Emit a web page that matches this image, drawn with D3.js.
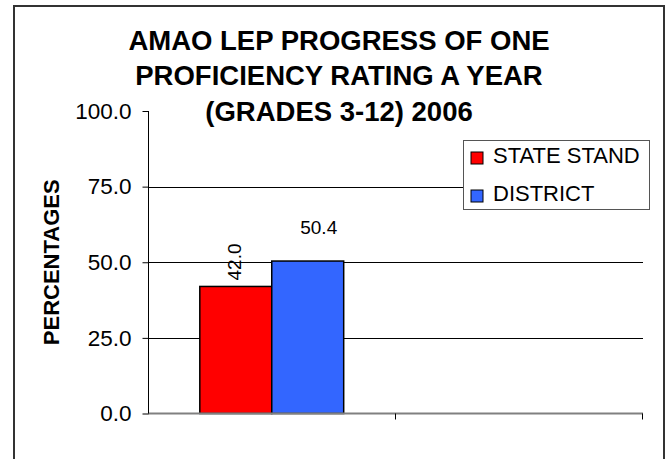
<!DOCTYPE html>
<html>
<head>
<meta charset="utf-8">
<script src="https://cdn.jsdelivr.net/npm/d3@7"></script>
<style>
  html, body { margin: 0; padding: 0; background: #fff; }
  svg { display: block; }
  text { font-family: "Liberation Sans", Arial, sans-serif; fill: #000; }
</style>
</head>
<body>
<svg id="chart" width="670" height="459"></svg>
<script>
// ---- data ----
const titleLines = ["AMAO LEP PROGRESS OF ONE", "PROFICIENCY RATING A YEAR", "(GRADES 3-12) 2006"];
const categories = ["2006", ""];
const seriesNames = ["STATE STAND", "DISTRICT"];
const stateStand = [42.0, null];
const district = [50.4, null];
const yTicks = [0, 25, 50, 75, 100];
const yTickLabels = ["0.0", "25.0", "50.0", "75.0", "100.0"];
const yAxisTitle = "PERCENTAGES";
const seriesColors = ["#FF0000", "#3366FF"];

const seriesValues = [stateStand, district];

// ---- layout ----
const svg = d3.select("#chart");
const plot = { left: 148, right: 643, top: 111, bottom: 413.5 };

svg.append("rect")
  .attr("x", 14).attr("y", 6).attr("width", 650).attr("height", 470)
  .attr("fill", "#fff").attr("stroke", "#333").attr("stroke-width", 2);

const x = d3.scaleBand().domain(categories.map((c, i) => i)).range([plot.left, plot.right]).padding(0);
const xs = d3.scaleBand().domain(seriesNames).range([0, x.bandwidth()]).paddingInner(0).paddingOuter(0.72);
const y = d3.scaleLinear().domain([0, 100]).range([plot.bottom, plot.top]);

// gridlines (excluding 0 and 100)
svg.append("g").selectAll("line")
  .data(yTicks.filter(t => t > 0 && t < 100))
  .join("line")
  .attr("x1", plot.left).attr("x2", plot.right)
  .attr("y1", d => Math.round(y(d)) + 0.5).attr("y2", d => Math.round(y(d)) + 0.5)
  .attr("stroke", "#000").attr("stroke-width", 1);

// bars
const flat = [];
categories.forEach((c, ci) => {
  seriesNames.forEach((s, si) => {
    const v = seriesValues[si][ci];
    if (v != null) flat.push({ ci, s, si, v });
  });
});

svg.append("g").selectAll("rect")
  .data(flat)
  .join("rect")
  .attr("x", d => x(d.ci) + xs(d.s))
  .attr("y", d => y(d.v))
  .attr("width", xs.bandwidth())
  .attr("height", d => y(0) - y(d.v))
  .attr("fill", d => seriesColors[d.si])
  .attr("stroke", "#000").attr("stroke-width", 1.5);

// x axis
svg.append("line")
  .attr("x1", plot.left).attr("x2", plot.right)
  .attr("y1", plot.bottom).attr("y2", plot.bottom)
  .attr("stroke", "#808080").attr("stroke-width", 2);
const xBoundaries = categories.map((c, i) => x(i) + x.bandwidth());
svg.append("g").selectAll("line")
  .data(xBoundaries)
  .join("line")
  .attr("x1", d => Math.round(d) - 0.5).attr("x2", d => Math.round(d) - 0.5)
  .attr("y1", plot.bottom).attr("y2", plot.bottom + 6)
  .attr("stroke", "#000").attr("stroke-width", 1);

// y axis
const yAxis = d3.axisLeft(y).tickValues(yTicks).tickSize(6).tickPadding(11)
  .tickFormat((d, i) => yTickLabels[i]);
const gy = svg.append("g").attr("transform", `translate(${plot.left + 0.5},0)`).call(yAxis);
gy.select(".domain").attr("stroke", "#000").attr("d", `M0,${plot.top}V${plot.bottom}`);
gy.selectAll(".tick line").attr("stroke", "#000");
gy.selectAll(".tick text")
  .style("font-family", '"Liberation Sans", Arial, sans-serif')
  .style("font-size", "22.5px").attr("fill", "#000");

// y axis title
svg.append("text")
  .attr("transform", `translate(59,${(plot.top + plot.bottom) / 2}) rotate(-90)`)
  .attr("text-anchor", "middle")
  .style("font-size", "22px").style("font-weight", "bold")
  .text(yAxisTitle);

// data labels
svg.append("g").selectAll("text")
  .data(flat)
  .join("text")
  .attr("transform", d => {
    const cx = x(d.ci) + xs(d.s) + xs.bandwidth() / 2;
    if (d.si === 0) return `translate(${cx + 5},${y(d.v) - 6}) rotate(-90)`;
    return `translate(${cx + 11},${y(d.v) - 27})`;
  })
  .attr("text-anchor", d => d.si === 0 ? "start" : "middle")
  .style("font-size", "19px")
  .text(d => d.v.toFixed(1));

// title
svg.append("g").selectAll("text")
  .data(titleLines)
  .join("text")
  .attr("x", 339).attr("y", (d, i) => 49.5 + i * 35.5)
  .attr("text-anchor", "middle")
  .style("font-size", "27.5px").style("font-weight", "bold")
  .text(d => d);

// legend
const lg = svg.append("g");
lg.append("rect").attr("x", 463.5).attr("y", 140.5).attr("width", 186).attr("height", 69)
  .attr("fill", "#fff").attr("stroke", "#555").attr("stroke-width", 1);
const li = lg.selectAll("g.item").data(seriesNames).join("g").attr("class", "item")
  .attr("transform", (d, i) => `translate(471,${152 + i * 38})`);
li.append("rect").attr("width", 12).attr("height", 12)
  .attr("fill", (d, i) => seriesColors[i]).attr("stroke", "#000").attr("stroke-width", 1);
li.append("text").attr("x", 22).attr("y", 11)
  .style("font-size", "22px").text(d => d);
</script>
</body>
</html>
